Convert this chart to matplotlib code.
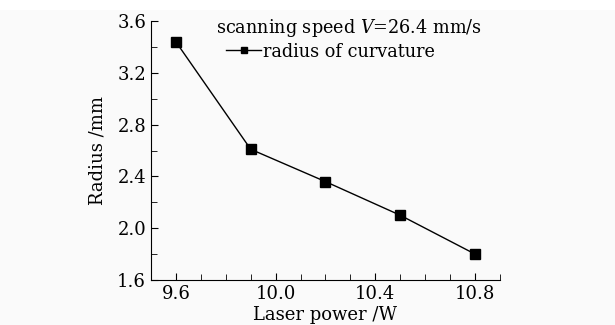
import matplotlib
matplotlib.use("Agg")
import matplotlib.pyplot as plt
from matplotlib.patches import Rectangle
from matplotlib.ticker import MultipleLocator

laser_power = [9.6, 9.9, 10.2, 10.5, 10.8]
radius = [3.44, 2.61, 2.36, 2.10, 1.80]

plt.rcParams["font.family"] = ["DejaVu Serif"]
plt.rcParams["mathtext.fontset"] = "dejavuserif"

fig = plt.figure(figsize=(6.15, 3.25), dpi=100, facecolor="#fafafa")
# thin white strip at the very top, as in the scanned original
fig.patches.append(Rectangle((0, 0.97), 1, 0.03, transform=fig.transFigure,
                             facecolor="white", edgecolor="none", zorder=-1))
ax = fig.add_axes([0.2455, 0.1385, 0.5675, 0.7965])
ax.set_facecolor("none")

ax.plot(laser_power, radius, color="black", linewidth=1.0,
        marker="s", markersize=7, label="radius of curvature")

ax.set_xlim(9.5, 10.9)
ax.set_ylim(1.6, 3.6)
ax.xaxis.set_major_locator(MultipleLocator(0.4))
ax.xaxis.set_minor_locator(MultipleLocator(0.1))
ax.yaxis.set_major_locator(MultipleLocator(0.4))
ax.yaxis.set_minor_locator(MultipleLocator(0.2))
ax.xaxis.set_major_formatter(plt.FormatStrFormatter("%.1f"))
ax.yaxis.set_major_formatter(plt.FormatStrFormatter("%.1f"))

ax.tick_params(which="both", direction="in", labelsize=13)
ax.tick_params(which="major", length=5)
ax.tick_params(which="minor", length=4)

ax.spines["top"].set_visible(False)
ax.spines["right"].set_visible(False)

ax.set_xlabel("Laser power /W", fontsize=13, labelpad=2)
ax.set_ylabel("Radius /mm", fontsize=13, labelpad=8)

ax.text(0.185, 0.975, "scanning speed $V$=26.4 mm/s", transform=ax.transAxes,
        fontsize=12.7, va="center", ha="left")
ax.legend(loc="upper left", bbox_to_anchor=(0.18, 0.965), frameon=False,
          fontsize=12.7, handlelength=2.0, handletextpad=0.1, borderpad=0.2,
          markerscale=0.65)

fig.savefig("out.png", dpi=100, facecolor=fig.get_facecolor())
